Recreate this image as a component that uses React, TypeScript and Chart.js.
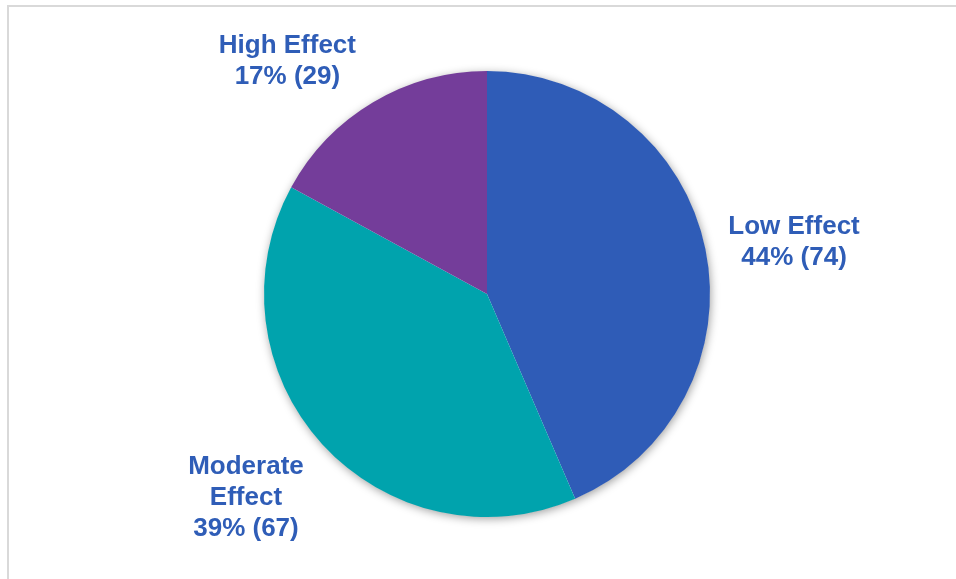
import React, { useEffect, useRef } from "react";
import { Chart, registerables } from "chart.js";

Chart.register(...registerables);

const categories = ["Low Effect", "Moderate Effect", "High Effect"];
const labelLines = [["Low Effect"], ["Moderate", "Effect"], ["High Effect"]];
const counts = [74, 67, 29];
const colors = ["#2F5CB7", "#00A3AD", "#743D9A"];

const TEXT_COLOR = "#2F5DB7";
const FONT_SIZE = 26;
const FONT = `bold ${FONT_SIZE}px 'Liberation Sans', Arial, sans-serif`;
const LINE_H = 31;
const ANGLE_NUDGE_DEG = [1.67, 2.5, -9.7];
const LABEL_DIST = [1.398, 1.408, 1.381];

const shadowPlugin = {
  id: "pieShadow",
  beforeDatasetsDraw(chart: any) {
    const meta = chart.getDatasetMeta(0);
    const arc = meta.data[0];
    if (!arc) return;
    const { x, y, outerRadius } = arc.getProps(["x", "y", "outerRadius"], true);
    const ctx = chart.ctx;
    ctx.save();
    ctx.shadowColor = "rgba(0,0,0,0.4)";
    ctx.shadowBlur = 10;
    ctx.shadowOffsetX = 1;
    ctx.shadowOffsetY = 2;
    ctx.beginPath();
    ctx.arc(x, y, outerRadius - 0.5, 0, Math.PI * 2);
    ctx.fillStyle = "#ffffff";
    ctx.fill();
    ctx.restore();
  },
};

const labelPlugin = {
  id: "pieLabels",
  afterDatasetsDraw(chart: any) {
    const meta = chart.getDatasetMeta(0);
    const data = chart.data.datasets[0].data as number[];
    const total = data.reduce((a, b) => a + b, 0);
    const ctx = chart.ctx;
    ctx.save();
    ctx.font = FONT;
    ctx.fillStyle = TEXT_COLOR;
    ctx.textAlign = "center";
    ctx.textBaseline = "alphabetic";
    const capHalf = FONT_SIZE * 0.716 * 0.5;
    meta.data.forEach((arc: any, i: number) => {
      const { x, y, startAngle, endAngle, outerRadius } = arc.getProps(
        ["x", "y", "startAngle", "endAngle", "outerRadius"],
        true
      );
      const mid = (startAngle + endAngle) / 2 + (ANGLE_NUDGE_DEG[i] * Math.PI) / 180;
      const cx = x + Math.cos(mid) * outerRadius * LABEL_DIST[i];
      const cy = y + Math.sin(mid) * outerRadius * LABEL_DIST[i];
      const pct = Math.round((data[i] / total) * 100);
      const lines = [...labelLines[i], `${pct}% (${data[i]})`];
      const top = cy - ((lines.length - 1) * LINE_H) / 2;
      lines.forEach((t, j) => ctx.fillText(t, cx, top + j * LINE_H + capHalf));
    });
    ctx.restore();
  },
};

export default function App() {
  const ref = useRef<HTMLCanvasElement>(null);
  useEffect(() => {
    if (!ref.current) return;
    const chart = new Chart(ref.current, {
      type: "pie",
      data: {
        labels: categories,
        datasets: [
          {
            data: counts,
            backgroundColor: colors,
            borderWidth: 0,
          },
        ],
      },
      options: {
        responsive: false,
        animation: false,
        devicePixelRatio: 1,
        layout: { padding: { left: 264, right: 246, top: 71, bottom: 62 } },
        plugins: { legend: { display: false }, tooltip: { enabled: false } },
      },
      plugins: [shadowPlugin, labelPlugin],
    });
    return () => chart.destroy();
  }, []);
  return (
    <div
      style={{
        position: "fixed",
        left: 0,
        top: 0,
        width: 956,
        height: 579,
        background: "#ffffff",
        overflow: "hidden",
      }}
    >
      <div
        style={{
          position: "absolute",
          left: 7,
          top: 5,
          width: 951,
          height: 600,
          border: "2px solid #d9d9d9",
          boxSizing: "border-box",
        }}
      />
      <canvas
        ref={ref}
        width={956}
        height={579}
        style={{ position: "absolute", left: 0, top: 0, width: 956, height: 579 }}
      />
    </div>
  );
}
